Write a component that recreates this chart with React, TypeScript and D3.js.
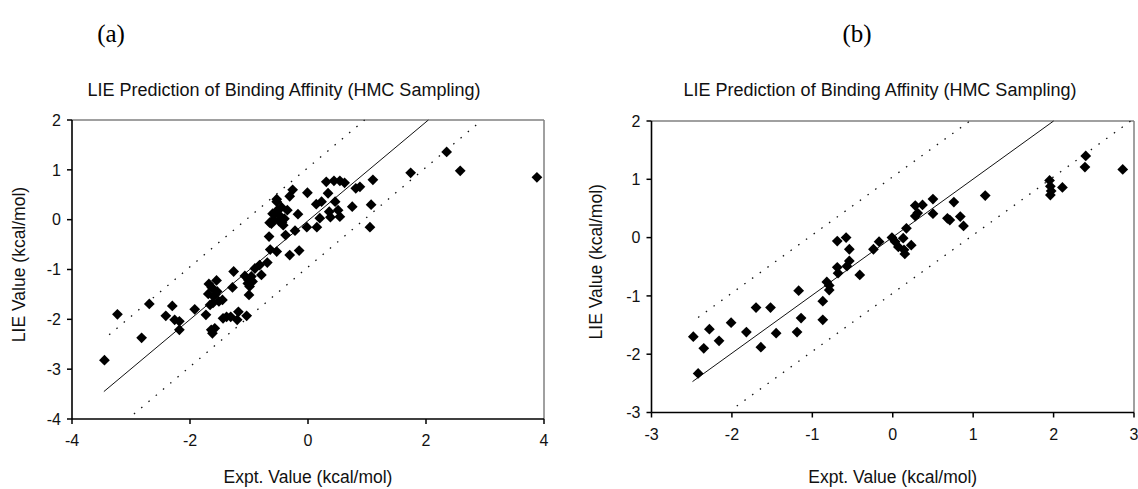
import React from 'react';
import * as d3 from 'd3';

const W = 1138;
const H = 489;

const TITLE = 'LIE Prediction of Binding Affinity (HMC Sampling)';
const X_LABEL = 'Expt. Value (kcal/mol)';
const Y_LABEL = 'LIE Value (kcal/mol)';

// panel (a)
const xTicksA = [-4, -2, 0, 2, 4];
const yTicksA = [-4, -3, -2, -1, 0, 1, 2];
const pointsA: [number, number][] = [
  [-3.45, -2.82], [-3.23, -1.9], [-2.82, -2.37], [-2.69, -1.69], [-2.41, -1.93],
  [-2.3, -1.73], [-2.26, -2.01], [-2.18, -2.04], [-2.18, -2.21], [-1.92, -1.8],
  [-1.73, -1.91], [-1.68, -1.29], [-1.69, -1.49], [-1.66, -1.71], [-1.64, -2.21],
  [-1.6, -1.54], [-1.58, -2.18], [-1.55, -1.22], [-1.54, -1.44], [-1.51, -1.64],
  [-1.45, -1.61], [-1.61, -1.67], [-1.62, -2.28], [-1.44, -1.98], [-1.38, -1.95],
  [-1.63, -1.36], [-1.57, -1.5], [-1.02, -1.28],
  [-1.31, -1.95], [-1.26, -1.04], [-1.28, -1.36], [-1.18, -1.85], [-1.2, -2.01],
  [-1.07, -1.13], [-1.04, -1.93], [-1.01, -1.21], [-0.99, -1.34], [-1.0, -1.51],
  [-0.96, -1.14], [-0.94, -1.24], [-0.9, -0.98], [-0.82, -0.91], [-0.79, -1.11],
  [-0.69, -0.86], [-0.64, -0.6], [-0.53, -0.64], [-0.66, -0.34], [-0.65, -0.06],
  [-0.59, 0.0], [-0.53, 0.36], [-0.53, 0.41], [-0.52, 0.19], [-0.49, -0.03],
  [-0.47, 0.07], [-0.57, 0.1], [-0.45, 0.25], [-0.62, -0.08], [-0.4, 0.02],
  [-0.6, 0.12], [-0.44, -0.05],
  [-0.42, -0.11], [-0.38, -0.31], [-0.35, 0.19], [-0.31, -0.71], [-0.31, 0.47],
  [-0.26, 0.6], [-0.22, -0.22], [-0.17, 0.11], [-0.15, -0.62], [-0.01, 0.54],
  [-0.02, -0.15], [0.15, -0.15], [0.14, 0.31], [0.23, 0.36], [0.2, 0.03],
  [0.31, 0.76], [0.34, 0.53], [0.36, 0.16], [0.38, 0.05], [0.46, 0.36],
  [0.44, 0.78], [0.51, 0.19], [0.54, 0.06], [0.54, 0.78], [0.62, 0.74],
  [0.75, 0.26], [0.81, 0.63], [0.88, 0.66], [1.05, -0.15], [1.07, 0.3],
  [1.1, 0.8], [1.74, 0.94], [2.35, 1.36], [2.58, 0.98], [3.88, 0.85],
];
const solidA: [number, number][] = [[-3.46, -3.45], [2.04, 2]];
const upperA: [number, number][] = [[-3.37, -2.31], [0.96, 2]];
const lowerA: [number, number][] = [[-2.95, -3.9], [2.95, 2]];

// panel (b)
const xTicksB = [-3, -2, -1, 0, 1, 2, 3];
const yTicksB = [-3, -2, -1, 0, 1, 2];
const pointsB: [number, number][] = [
  [-2.48, -1.7], [-2.42, -2.33], [-2.35, -1.9], [-2.28, -1.57], [-2.16, -1.77],
  [-2.01, -1.46], [-1.82, -1.62], [-1.7, -1.2], [-1.64, -1.88], [-1.52, -1.2],
  [-1.45, -1.64], [-1.19, -1.62], [-1.17, -0.91], [-1.14, -1.38], [-0.87, -1.41],
  [-0.87, -1.09], [-0.82, -0.76], [-0.79, -0.82], [-0.79, -0.9], [-0.69, -0.06],
  [-0.69, -0.51], [-0.68, -0.61], [-0.58, 0.0], [-0.57, -0.49], [-0.54, -0.2],
  [-0.54, -0.4], [-0.41, -0.64], [-0.24, -0.2], [-0.17, -0.07], [-0.01, 0.0],
  [0.03, -0.07], [0.07, -0.16], [0.13, -0.01], [0.14, -0.21], [0.15, -0.28],
  [0.17, 0.16], [0.23, -0.13], [0.28, 0.55], [0.28, 0.37], [0.31, 0.42],
  [0.37, 0.56], [0.5, 0.66], [0.5, 0.41], [0.68, 0.33], [0.71, 0.3],
  [0.76, 0.61], [0.84, 0.36], [0.88, 0.2], [1.15, 0.72], [1.95, 0.98],
  [1.96, 0.88], [1.97, 0.8], [1.96, 0.73], [2.11, 0.86], [2.39, 1.21],
  [2.4, 1.4], [2.86, 1.17],
];
const solidB: [number, number][] = [[-2.49, -2.47], [2.0, 2.0]];
const upperB: [number, number][] = [[-2.42, -1.37], [0.96, 2]];
const lowerB: [number, number][] = [[-1.94, -2.89], [2.96, 2]];

const SANS = '"Liberation Sans", Arial, sans-serif';
const SERIF = '"Liberation Serif", "Times New Roman", serif';

const diamond = d3.symbol(d3.symbolSquare, 58)();

type PanelProps = {
  left: number; right: number; top: number; bottom: number;
  xDomain: [number, number]; yDomain: [number, number];
  xTicks: number[]; yTicks: number[];
  points: [number, number][];
  solid: [number, number][]; upper: [number, number][]; lower: [number, number][];
  titleX: number; yLabelX: number;
};

const Panel = (p: PanelProps) => {
  const x = d3.scaleLinear().domain(p.xDomain).range([p.left, p.right]);
  const y = d3.scaleLinear().domain(p.yDomain).range([p.bottom, p.top]);
  const line = d3.line<[number, number]>().x(d => x(d[0])).y(d => y(d[1]));
  const midX = (p.left + p.right) / 2;
  const midY = (p.top + p.bottom) / 2 - 5;

  return (
    <g>
      <text x={p.titleX} y={96} textAnchor="middle" fontFamily={SANS} fontSize={18} fill="#111">{TITLE}</text>

      {/* frame */}
      <line x1={p.left} x2={p.right} y1={p.top} y2={p.top} stroke="#808080" strokeWidth={1.5} />
      <line x1={p.right} x2={p.right} y1={p.top} y2={p.bottom} stroke="#808080" strokeWidth={1.5} />

      <path d={line(p.solid) || ''} fill="none" stroke="#111" strokeWidth={1} />
      <path d={line(p.upper) || ''} fill="none" stroke="#111" strokeWidth={1.3} strokeDasharray="1.5 8" />
      <path d={line(p.lower) || ''} fill="none" stroke="#111" strokeWidth={1.3} strokeDasharray="1.5 8" />

      {p.points.map((d, i) => (
        <path key={i} d={diamond || ''} transform={`translate(${x(d[0])},${y(d[1])}) rotate(45)`} fill="#000" />
      ))}

      {/* axes */}
      <line x1={p.left} x2={p.left} y1={p.top} y2={p.bottom} stroke="#000" strokeWidth={1.6} />
      <line x1={p.left} x2={p.right} y1={p.bottom} y2={p.bottom} stroke="#000" strokeWidth={1.6} />
      {p.yTicks.map(t => (
        <g key={'y' + t}>
          <line x1={p.left - 5} x2={p.left} y1={y(t)} y2={y(t)} stroke="#000" strokeWidth={1.5} />
          <text x={p.left - 11} y={y(t)} dy="0.36em" textAnchor="end" fontFamily={SANS} fontSize={16} fill="#111">{t}</text>
        </g>
      ))}
      {p.xTicks.map(t => (
        <g key={'x' + t}>
          <line x1={x(t)} x2={x(t)} y1={p.bottom} y2={p.bottom + 5} stroke="#000" strokeWidth={1.5} />
          <text x={x(t)} y={p.bottom + 27} textAnchor="middle" fontFamily={SANS} fontSize={16} fill="#111">{t}</text>
        </g>
      ))}

      <text x={midX} y={483} textAnchor="middle" fontFamily={SANS} fontSize={17.5} fill="#111">{X_LABEL}</text>
      <text transform={`translate(${p.yLabelX},${midY}) rotate(-90)`} textAnchor="middle" dy="0.35em" fontFamily={SANS} fontSize={17.5} fill="#111">{Y_LABEL}</text>
    </g>
  );
};

export default function App() {
  return (
    <svg width={W} height={H} style={{ position: 'absolute', left: 0, top: 0, background: '#fff' }}>
      <rect width={W} height={H} fill="#fff" />
      <text x={111} y={42} textAnchor="middle" fontFamily={SERIF} fontSize={25} fill="#000">(a)</text>
      <text x={857} y={42} textAnchor="middle" fontFamily={SERIF} fontSize={25} fill="#000">(b)</text>
      <Panel
        left={72} right={544} top={120} bottom={419}
        xDomain={[-4, 4]} yDomain={[-4, 2]}
        xTicks={xTicksA} yTicks={yTicksA}
        points={pointsA} solid={solidA} upper={upperA} lower={lowerA}
        titleX={284} yLabelX={19}
      />
      <Panel
        left={651.5} right={1134} top={121} bottom={412.5}
        xDomain={[-3, 3]} yDomain={[-3, 2]}
        xTicks={xTicksB} yTicks={yTicksB}
        points={pointsB} solid={solidB} upper={upperB} lower={lowerB}
        titleX={880} yLabelX={596}
      />
    </svg>
  );
}
